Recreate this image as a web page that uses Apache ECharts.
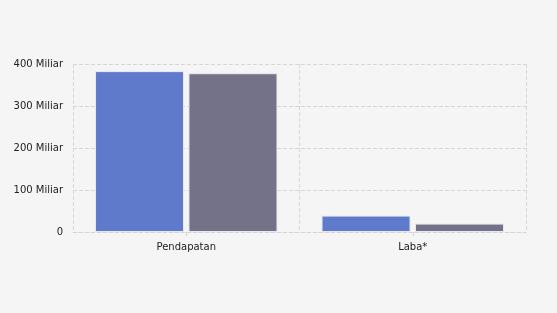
<!DOCTYPE html>
<html><head><meta charset="utf-8">
<script src="https://cdn.jsdelivr.net/npm/echarts@6/dist/echarts.min.js"></script>
<style>html,body{margin:0;padding:0;background:#f5f5f5}#c{width:557px;height:313px}</style>
</head><body><div id="c"></div>
<script>
var categories = ["Pendapatan", "Laba*"];
var seriesA = [383, 39];
var seriesB = [378, 20];
var yTicks = [0, 100, 200, 300, 400];

var chart = echarts.init(document.getElementById('c'), null, {renderer: 'canvas'});
chart.setOption({
  backgroundColor: '#f5f5f5',
  animation: false,
  grid: {left: 73, right: 31, top: 64, bottom: 81, containLabel: false},
  xAxis: {
    type: 'category',
    data: categories,
    axisLine: {lineStyle: {color: '#d6d6d6', type: 'dashed'}},
    axisTick: {show: true, alignWithLabel: true, length: 4, lineStyle: {color: '#d6d6d6'}},
    axisLabel: {color: '#222', fontSize: 10, fontFamily: 'DejaVu Sans', margin: 10},
    splitLine: {show: true, lineStyle: {color: '#d6d6d6', type: 'dashed'}}
  },
  yAxis: {
    type: 'value',
    min: 0, max: 400, interval: 100,
    axisLine: {show: false},
    axisTick: {show: false},
    axisLabel: {color: '#222', fontSize: 10, fontFamily: 'DejaVu Sans', margin: 10,
      formatter: function(v){ return v === 0 ? '0' : v + ' Miliar'; }},
    splitLine: {show: true, lineStyle: {color: '#d6d6d6', type: 'dashed'}}
  },
  series: [
    {type: 'bar', data: seriesA, barWidth: 89, barGap: '5%',
     itemStyle: {color: '#5f7acb', borderColor: '#e8e8f0', borderWidth: 1}},
    {type: 'bar', data: seriesB, barWidth: 89,
     itemStyle: {color: '#737289', borderColor: '#e8e8f0', borderWidth: 1}}
  ]
});
</script></body></html>
